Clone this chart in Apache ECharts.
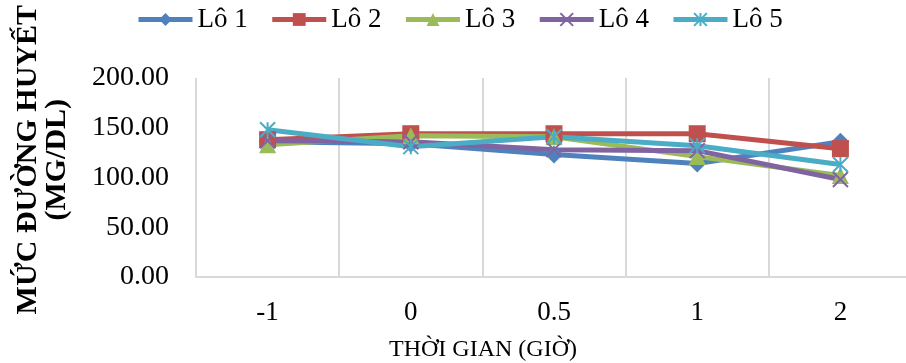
<!DOCTYPE html>
<html><head><meta charset="utf-8">
<script src="https://cdn.jsdelivr.net/npm/echarts@6/dist/echarts.min.js"></script>
<style>html,body{margin:0;padding:0;background:#fff}#c{width:906px;height:363px}</style>
</head><body><div id="c"></div>
<script>
const categories = ['-1', '0', '0.5', '1', '2'];
const seriesNames = ['Lô 1', 'Lô 2', 'Lô 3', 'Lô 4', 'Lô 5'];
const lo1 = [136, 134, 123, 114, 136];
const lo2 = [138, 144, 144, 144, 129];
const lo3 = [133, 142, 141, 121, 102];
const lo4 = [137, 136, 128, 127, 98];
const lo5 = [148, 131, 141, 132, 113];
const yTicks = [0, 50, 100, 150, 200];
const xTitle = 'THỜI GIAN (GIỜ)';
const yTitle = ['MỨC ĐƯỜNG HUYẾT', '(MG/DL)'];

const colors = ['#4F81BD', '#C0504D', '#9BBB59', '#8064A2', '#4BACC6'];
const serif = '"Liberation Serif", "DejaVu Serif", serif';
const symbols = [
  'diamond', 'rect', 'triangle',
  'path://M0,0L10,10M10,0L0,10',
  'path://M5,0L5,10M0,0L10,10M10,0L0,10'
];
const symbolSizes = [18, 17, 17, 15, 15];
const values = [lo1, lo2, lo3, lo4, lo5];

const chart = echarts.init(document.getElementById('c'), null, {renderer: 'canvas'});
const series = values.map((v, i) => ({
  name: seriesNames[i],
  type: 'line',
  data: v,
  symbol: symbols[i],
  symbolSize: symbolSizes[i],
  showAllSymbol: true,
  lineStyle: {color: colors[i], width: 5},
  itemStyle: i >= 3
    ? {color: colors[i], borderColor: colors[i], borderWidth: 2}
    : {color: colors[i], borderWidth: 0},
  emphasis: {disabled: true},
  animation: false
}));

chart.setOption({
  animation: false,
  color: colors,
  legend: {
    data: seriesNames,
    top: 6,
    left: 136,
    padding: 0,
    itemWidth: 54,
    itemHeight: 16,
    itemGap: 22,
    lineStyle: {width: 5},
    textStyle: {fontFamily: serif, fontSize: 27, color: '#000'}
  },
  grid: {left: 196, top: 78, bottom: 86, width: 716, outerBoundsMode: 'none', containLabel: false},
  xAxis: {
    type: 'category',
    data: categories,
    boundaryGap: true,
    axisLine: {show: true, lineStyle: {color: '#D9D9D9', width: 2}},
    axisTick: {show: false},
    splitLine: {show: true, lineStyle: {color: '#D9D9D9', width: 2}},
    axisLabel: {fontFamily: serif, fontSize: 27, color: '#000', margin: 22}
  },
  yAxis: {
    type: 'value',
    min: yTicks[0],
    max: yTicks[yTicks.length - 1],
    interval: yTicks[1] - yTicks[0],
    axisLine: {show: false},
    axisTick: {show: false},
    splitLine: {show: false},
    axisLabel: {
      fontFamily: serif, fontSize: 28, color: '#000', margin: 27,
      formatter: v => v.toFixed(2)
    }
  },
  graphic: [{
    type: 'text',
    left: 13,
    top: 5,
    rotation: Math.PI / 2,
    originX: 0, originY: 0,
    style: {
      text: yTitle.join('\n'),
      font: 'bold 30px ' + serif,
      fill: '#000',
      textAlign: 'center',
      lineHeight: 29
    }
  }, {
    type: 'text',
    x: 483,
    y: 350,
    style: {
      text: xTitle,
      font: '24px ' + serif,
      fill: '#000',
      textAlign: 'center',
      textVerticalAlign: 'middle'
    }
  }],
  series: series
});
</script>
</body></html>
